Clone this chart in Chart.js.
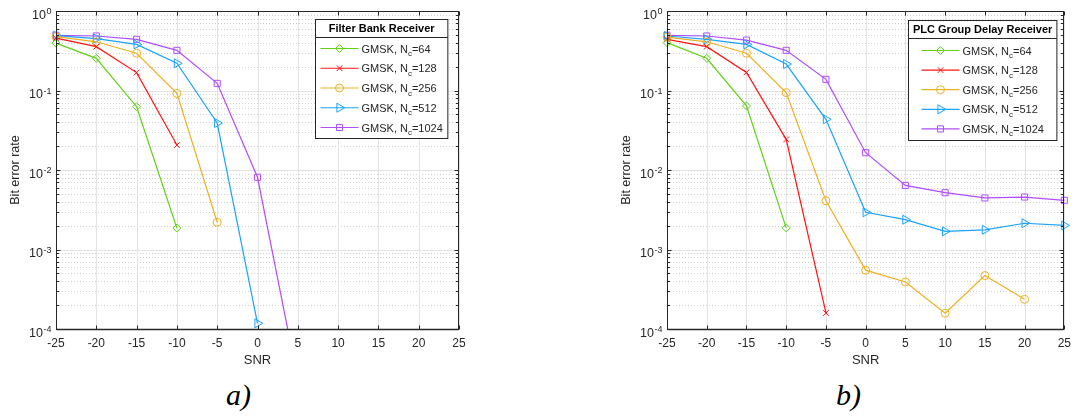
<!DOCTYPE html>
<html>
<head>
<meta charset="utf-8">
<script src="https://cdn.jsdelivr.net/npm/chart.js@4.4.0/dist/chart.umd.min.js"></script>
<style>
html,body{margin:0;padding:0;background:#fff;width:1078px;height:417px;overflow:hidden;}
.wrap{position:absolute;top:0;width:539px;height:370px;}
#w1{left:0;} #w2{left:539px;}
.cap{position:absolute;top:380px;font-family:'Liberation Serif','Times New Roman',serif;font-style:italic;font-size:30px;line-height:30px;color:#000;}
</style>
</head>
<body>
<div class="wrap" id="w1"><canvas id="c1" width="539" height="370"></canvas></div>
<div class="wrap" id="w2"><canvas id="c2" width="539" height="370"></canvas></div>
<div class="cap" style="left:226px;">a)</div>
<div class="cap" style="left:836px;">b)</div>
<script>
// ---------------- data ----------------
const SNR = [-25, -20, -15, -10, -5, 0, 5, 10, 15, 20, 25];
const X_TICKS = [-25, -20, -15, -10, -5, 0, 5, 10, 15, 20, 25];
const Y_DECADES = [0, -1, -2, -3, -4];
const NC = [64, 128, 256, 512, 1024];

// a) Filter Bank Receiver
const FB_NC64   = [0.395, 0.254, 0.0625, 0.00186];
const FB_NC128  = [0.455, 0.356, 0.168, 0.0206];
const FB_NC256  = [0.475, 0.41, 0.294, 0.092, 0.0022];
const FB_NC512  = [0.49, 0.45, 0.38, 0.22, 0.039, 0.000118];
const FB_NC1024 = [0.495, 0.485, 0.44, 0.32, 0.123, 0.0081, 0.000023];

// b) PLC Group Delay Receiver
const GD_NC64   = [0.40, 0.254, 0.064, 0.00187];
const GD_NC128  = [0.44, 0.356, 0.169, 0.0243, 0.000159];
const GD_NC256  = [0.47, 0.41, 0.294, 0.094, 0.0041, 0.00055, 0.00039, 0.000158, 0.00047, 0.000236];
const GD_NC512  = [0.485, 0.44, 0.38, 0.215, 0.0434, 0.00294, 0.00237, 0.00169, 0.00177, 0.00214, 0.00201];
const GD_NC1024 = [0.495, 0.485, 0.43, 0.32, 0.138, 0.0165, 0.0064, 0.00518, 0.00445, 0.00457, 0.00416];

// ---------------- styles ----------------
const COLORS = ['#5FD116', '#FF1414', '#EDB120', '#1AA3FF', '#B24CFF'];
const STYLES = ['rectRot', 'crossRot', 'circle', 'triangle', 'rect'];
const RADII  = [4, 4, 4, 5.2, 4.3];
const ROTS   = [0, 0, 0, 90, 0];
const FONT = "'Liberation Sans', Arial, Helvetica, sans-serif";
const TXT = '#262626';
const GRID_MAJOR = '#e3e3e3';
const GRID_MINOR = '#cfcfcf';

function makeDatasets(series) {
  return series.map((vals, i) => ({
    label: 'GMSK, Nc=' + NC[i],
    data: vals.map((v, j) => ({x: SNR[j], y: v})),
    borderColor: COLORS[i],
    backgroundColor: 'rgba(0,0,0,0)',
    pointBackgroundColor: 'rgba(0,0,0,0)',
    pointBorderColor: COLORS[i],
    borderWidth: 1.2,
    pointBorderWidth: 1,
    pointStyle: STYLES[i],
    pointRadius: RADII[i],
    pointHoverRadius: RADII[i],
    pointRotation: ROTS[i],
    tension: 0,
    clip: {left: 8, top: 8, right: 8, bottom: 0}
  }));
}

function drawMarker(ctx, style, r, rot, x, y) {
  if (Chart.helpers && Chart.helpers.drawPoint) {
    Chart.helpers.drawPoint(ctx, {pointStyle: style, radius: r, rotation: rot, borderWidth: 1}, x, y);
  }
}

function matlabPlugin(opts) {
  return {
    id: 'matlab' + opts.id,
    beforeDatasetsDraw(chart) {
      const {ctx, chartArea: {left, right, top, bottom}, scales: {x, y}} = chart;
      ctx.save();
      // minor dotted horizontal grid
      ctx.lineWidth = 1;
      ctx.setLineDash([1, 2]);
      ctx.strokeStyle = GRID_MINOR;
      for (let e = -4; e < 0; e++) {
        for (let m = 2; m <= 9; m++) {
          const py = Math.round(y.getPixelForValue(m * Math.pow(10, e))) + 0.5;
          ctx.beginPath(); ctx.moveTo(left, py); ctx.lineTo(right, py); ctx.stroke();
        }
      }
      ctx.setLineDash([]);
      ctx.strokeStyle = GRID_MAJOR;
      X_TICKS.forEach(v => {
        const px = Math.round(x.getPixelForValue(v)) + 0.5;
        ctx.beginPath(); ctx.moveTo(px, top); ctx.lineTo(px, bottom); ctx.stroke();
      });
      Y_DECADES.forEach(e => {
        const py = Math.round(y.getPixelForValue(Math.pow(10, e))) + 0.5;
        ctx.beginPath(); ctx.moveTo(left, py); ctx.lineTo(right, py); ctx.stroke();
      });
      ctx.restore();
    },
    afterDatasetsDraw(chart) {
      const {ctx, chartArea: {left, right, top, bottom}, scales: {x, y}} = chart;
      ctx.save();
      // frame
      ctx.strokeStyle = TXT;
      ctx.lineWidth = 1;
      const L = Math.round(left) + 0.5, R = Math.round(right) - 0.5, T = Math.round(top) + 0.5, B = Math.round(bottom) + 0.5;
      ctx.strokeRect(L, T, R - L, B - T);
      ctx.lineWidth = 1.3;
      ctx.beginPath(); ctx.moveTo(L, B); ctx.lineTo(R, B); ctx.stroke();
      ctx.lineWidth = 1;
      // x ticks (inward, top & bottom)
      X_TICKS.forEach(v => {
        const px = Math.round(x.getPixelForValue(v)) + 0.5;
        ctx.beginPath();
        ctx.moveTo(px, B); ctx.lineTo(px, B - 4);
        ctx.moveTo(px, T); ctx.lineTo(px, T + 4);
        ctx.stroke();
      });
      // y ticks
      for (let e = -4; e <= 0; e++) {
        const py = Math.round(y.getPixelForValue(Math.pow(10, e))) + 0.5;
        ctx.beginPath();
        ctx.moveTo(L, py); ctx.lineTo(L + 4, py);
        ctx.moveTo(R, py); ctx.lineTo(R - 4, py);
        ctx.stroke();
        if (e < 0) {
          for (let m = 2; m <= 9; m++) {
            const pm = Math.round(y.getPixelForValue(m * Math.pow(10, e))) + 0.5;
            ctx.beginPath();
            ctx.moveTo(L, pm); ctx.lineTo(L + 2.5, pm);
            ctx.moveTo(R, pm); ctx.lineTo(R - 2.5, pm);
            ctx.stroke();
          }
        }
      }
      // y tick labels 10^e
      ctx.fillStyle = TXT;
      ctx.textBaseline = 'alphabetic';
      ctx.textAlign = 'left';
      Y_DECADES.forEach(e => {
        const py = y.getPixelForValue(Math.pow(10, e));
        const sup = String(e);
        ctx.font = '12.5px ' + FONT;
        const bw = ctx.measureText('10').width;
        ctx.font = '9px ' + FONT;
        const sw = ctx.measureText(sup).width;
        const x0 = left - 5 - sw - bw;
        ctx.font = '12.5px ' + FONT;
        ctx.fillText('10', x0, py + 7.5);
        ctx.font = '9px ' + FONT;
        ctx.fillText(sup, x0 + bw + 0.5, py + 3);
      });
      // legend
      drawLegend(chart, opts);
      ctx.restore();
    }
  };
}

function drawLegend(chart, opts) {
  const ctx = chart.ctx, ca = chart.chartArea;
  const lineLen = 38, gap = 3;
  ctx.font = 'bold 11px ' + FONT;
  const tw = ctx.measureText(opts.title).width;
  const items = chart.data.datasets.map((ds, i) => {
    ctx.font = '11px ' + FONT;
    const a = 'GMSK, N', c = '=' + NC[i];
    const wa = ctx.measureText(a).width, wc = ctx.measureText(c).width;
    ctx.font = '8px ' + FONT;
    const wb = ctx.measureText('c').width;
    return {a, c, wa, wb, wc, w: lineLen + gap + wa + wb + wc};
  });
  const ew = Math.max(...items.map(it => it.w));
  const boxW = Math.max(tw + 9, ew + 10);
  const boxH = opts.boxH;
  const bx = Math.round(ca.right - opts.rightGap - boxW) + 0.5;
  const by = Math.round(ca.top + opts.topGap) + 0.5;
  ctx.fillStyle = '#fff';
  ctx.fillRect(bx, by, boxW, boxH);
  ctx.strokeStyle = TXT; ctx.lineWidth = 1; ctx.setLineDash([]);
  ctx.strokeRect(bx, by, boxW, boxH);
  const sepY = by + opts.sep;
  ctx.beginPath(); ctx.moveTo(bx, sepY); ctx.lineTo(bx + boxW, sepY); ctx.stroke();
  ctx.fillStyle = '#000';
  ctx.font = 'bold 11px ' + FONT;
  ctx.textAlign = 'center'; ctx.textBaseline = 'middle';
  ctx.fillText(opts.title, bx + boxW / 2, by + opts.sep / 2 + 0.5);
  const ex = bx + (boxW - ew) / 2;
  chart.data.datasets.forEach((ds, i) => {
    const ry = by + opts.firstRow + i * opts.rowH;
    ctx.strokeStyle = ds.borderColor; ctx.lineWidth = 1.2;
    ctx.beginPath(); ctx.moveTo(ex, ry); ctx.lineTo(ex + lineLen, ry); ctx.stroke();
    ctx.fillStyle = 'rgba(0,0,0,0)'; ctx.lineWidth = 1;
    drawMarker(ctx, ds.pointStyle, ds.pointRadius, ds.pointRotation, ex + lineLen / 2, ry);
    const it = items[i];
    ctx.fillStyle = TXT; ctx.textAlign = 'left'; ctx.textBaseline = 'alphabetic';
    let tx = ex + lineLen + gap;
    ctx.font = '11px ' + FONT;
    ctx.fillText(it.a, tx, ry + 4);
    tx += it.wa;
    ctx.font = '8px ' + FONT;
    ctx.fillText('c', tx, ry + 7.5);
    tx += it.wb;
    ctx.font = '11px ' + FONT;
    ctx.fillText(it.c, tx, ry + 4);
  });
}

function makeChart(canvasId, series, yScaleWidth, padRight, yTitlePad, legendOpts) {
  return new Chart(document.getElementById(canvasId), {
    type: 'line',
    data: {datasets: makeDatasets(series)},
    options: {
      responsive: false,
      animation: false,
      events: [],
      devicePixelRatio: 1,
      layout: {padding: {left: 0, right: padRight, top: 11, bottom: 0}},
      plugins: {legend: {display: false}, tooltip: {enabled: false}},
      scales: {
        x: {
          type: 'linear', min: -25, max: 25,
          grid: {display: false, drawTicks: false},
          border: {display: false},
          ticks: {stepSize: 5, color: TXT, font: {family: FONT, size: 12}, padding: 7, maxRotation: 0, autoSkip: false},
          title: {display: true, text: 'SNR', color: TXT, font: {family: FONT, size: 13}, padding: {top: 0, bottom: 2}},
          afterFit: s => { s.height = 41; }
        },
        y: {
          type: 'logarithmic', min: 1e-4, max: 1,
          grid: {display: false, drawTicks: false},
          border: {display: false},
          ticks: {display: false},
          title: {display: true, text: 'Bit error rate', color: TXT, font: {family: FONT, size: 12.5}, padding: {top: yTitlePad, bottom: 0}},
          afterFit: s => { s.width = yScaleWidth; }
        }
      }
    },
    plugins: [matlabPlugin(legendOpts)]
  });
}

makeChart('c1', [FB_NC64, FB_NC128, FB_NC256, FB_NC512, FB_NC1024], 56, 80, 8,
  {id: 'a', title: 'Filter Bank Receiver', rightGap: 12, topGap: 8, boxH: 119, sep: 18, firstRow: 29, rowH: 19.75});
makeChart('c2', [GD_NC64, GD_NC128, GD_NC256, GD_NC512, GD_NC1024], 128, 8, 80,
  {id: 'b', title: 'PLC Group Delay Receiver', rightGap: 8, topGap: 9, boxH: 120, sep: 18, firstRow: 30, rowH: 19.6});
</script>
</body>
</html>
